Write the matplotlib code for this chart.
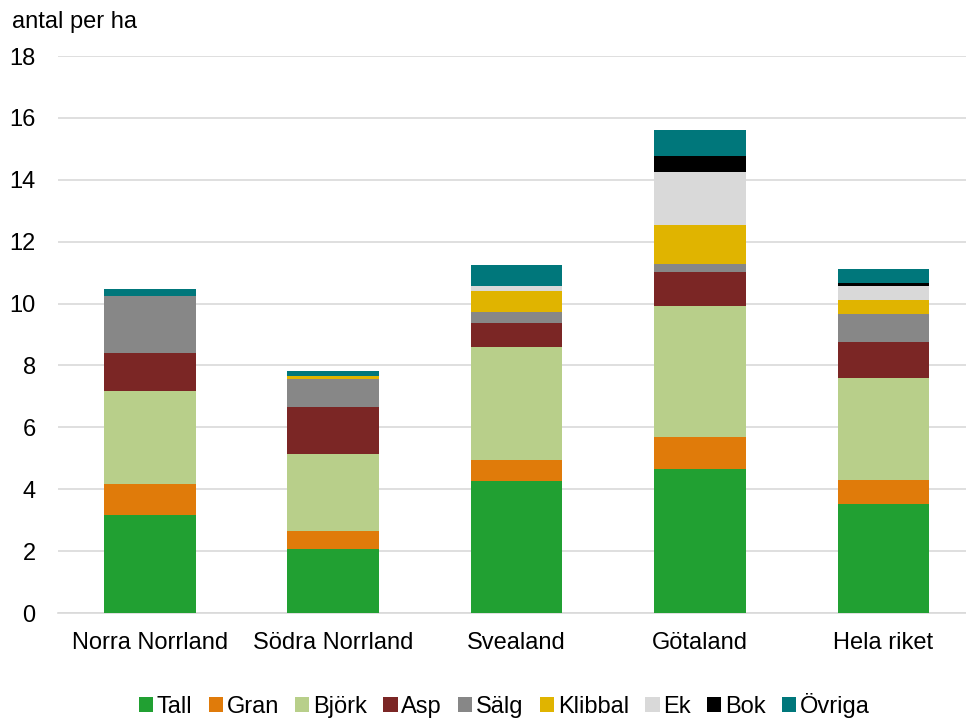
import numpy as np
import matplotlib.pyplot as plt
from matplotlib.patches import Patch

plt.rcParams['font.family'] = ['Liberation Sans', 'DejaVu Sans']

regions = ['Norra Norrland', 'Södra Norrland', 'Svealand', 'Götaland', 'Hela riket']
species = ['Tall', 'Gran', 'Björk', 'Asp', 'Sälg', 'Klibbal', 'Ek', 'Bok', 'Övriga']

tall = [3.16, 2.07, 4.27, 4.65, 3.51]
gran = [1.02, 0.58, 0.67, 1.04, 0.78]
bjork = [2.99, 2.50, 3.67, 4.22, 3.31]
asp = [1.23, 1.50, 0.76, 1.10, 1.17]
salg = [1.86, 0.90, 0.37, 0.27, 0.88]
klibbal = [0.0, 0.10, 0.68, 1.27, 0.48]
ek = [0.0, 0.02, 0.16, 1.71, 0.43]
bok = [0.0, 0.0, 0.0, 0.52, 0.11]
ovriga = [0.21, 0.14, 0.68, 0.82, 0.45]

colors = ['#21A032', '#E07B0A', '#B8CF8A', '#7B2625', '#878787',
          '#E0B400', '#D9D9D9', '#000000', '#00777B']

series = [tall, gran, bjork, asp, salg, klibbal, ek, bok, ovriga]

fig = plt.figure(figsize=(9.66, 7.18), dpi=100)
ax = fig.add_axes([0.060, 0.1462, 0.94, 0.7758])

x = np.arange(len(regions))
bottom = np.zeros(len(regions))
for vals, col, name in zip(series, colors, species):
    ax.bar(x, vals, width=0.5, bottom=bottom, color=col, label=name, zorder=3)
    bottom += np.array(vals)

ax.set_ylim(0, 18)
ax.set_xlim(-0.5, 4.45)
ax.set_yticks(range(0, 19, 2))
ax.set_xticks(x)
ax.set_xticklabels(regions)
ax.yaxis.grid(True, color='#D9D9D9', linewidth=1.2, zorder=0)
ax.tick_params(axis='both', length=0, labelsize=17, colors='black')
ax.tick_params(axis='x', pad=14)
ax.tick_params(axis='y', pad=16)
for s in ['top', 'right', 'left']:
    ax.spines[s].set_visible(False)
ax.spines['bottom'].set_color('#D9D9D9')
ax.spines['bottom'].set_linewidth(1.2)

fig.text(0.012, 0.969, 'antal per ha', fontsize=17, va='center', ha='left')

handles = [Patch(facecolor=c, label=n) for c, n in zip(colors, species)]
fig.legend(handles=handles, loc='center', bbox_to_anchor=(0.522, 0.017), ncol=9,
           frameon=False, fontsize=17, handlelength=0.6, handleheight=0.6,
           handletextpad=0.15, columnspacing=0.7)

fig.savefig('out.png', dpi=100)
